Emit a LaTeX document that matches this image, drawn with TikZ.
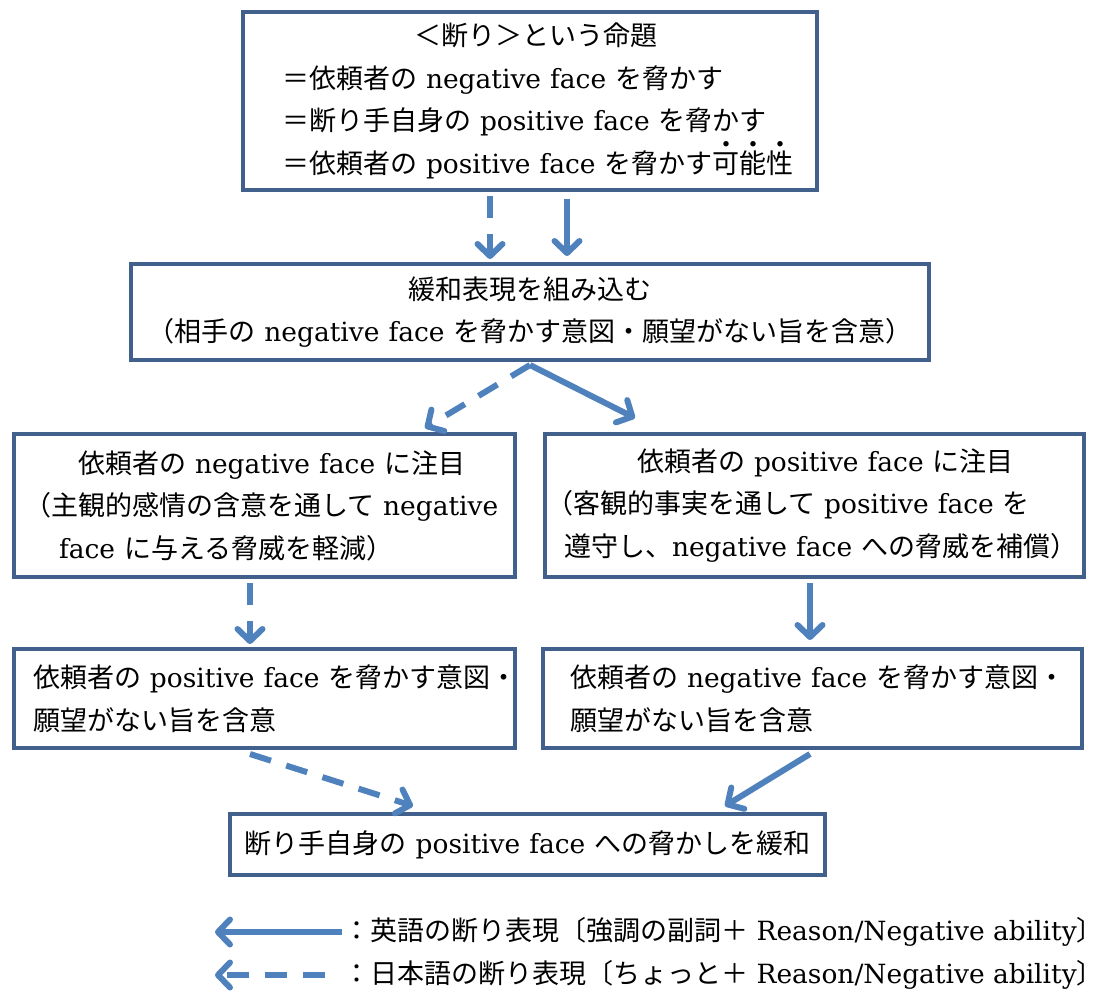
\documentclass[tikz,border=0pt]{standalone}
\usepackage{fontspec}
\usetikzlibrary{arrows.meta,calc}
\newfontfamily\jpfont{Noto Sans CJK JP}
\newfontfamily\latfont{DejaVu Serif}[Scale=0.98]
\newcommand\E[1]{{\latfont #1}}
\newcommand\Ln[2]{\makebox[\linewidth][l]{\hspace*{#1}#2}}
\newcommand\Cn[1]{\makebox[\linewidth][c]{#1}}
\newcommand\bt[1]{\leavevmode\rlap{\makebox[1em][c]{\raisebox{1.0em}{\fontsize{6}{6}\selectfont ●}}}#1}
\definecolor{boxc}{RGB}{65,97,140}
\definecolor{arrc}{RGB}{79,129,189}
\begin{document}
\begin{tikzpicture}[x=1pt,y=-1pt,
  txt/.style={inner sep=0pt,font=\jpfont\fontsize{27}{42.5}\selectfont},
  box/.style={txt,draw=boxc,line width=4pt,fill=white,anchor=north west,align=left},
  bx/.style n args={2}{box,minimum width=#1,minimum height=#2,text width=#1},
  sol/.style={draw=arrc,line width=6pt,line join=round,-{Straight Barb[length=12pt,width=25pt,round]}},
  dsh/.style={sol,dash pattern=on 22pt off 16pt}]
\path[use as bounding box] (0,0) rectangle (1102,991);
\node[bx={574pt}{178pt}] (top) at (241,10) {\Cn{\hspace*{12pt}＜断り＞という命題}\\
  \Ln{39pt}{＝依頼者の\E{ negative face }を脅かす}\\
  \Ln{39pt}{＝断り手自身の\E{ positive face }を脅かす}\\
  \Ln{39pt}{＝依頼者の\E{ positive face }を脅かす\bt{可}\bt{能}\bt{性}}};
\node[bx={798pt}{96pt}] (mid) at (129,262) {\Cn{緩和表現を組み込む}\\
  \Cn{（相手の\E{ negative face }を脅かす意図・願望がない旨を含意）}};
\node[bx={501pt}{143pt}] (nl) at (12,432) {\Ln{64pt}{依頼者の\E{ negative face }に注目}\\
  \Ln{10pt}{（主観的感情の含意を通して\E{ negative}}\\
  \Ln{45pt}{\E{face }に与える脅威を軽減）}};
\node[bx={539pt}{143pt}] (pr) at (543,432) {\Ln{92pt}{依頼者の\E{ positive face }に注目}\\
  \Ln{1pt}{（客観的事実を通して\E{ positive face }を}\\
  \Ln{19pt}{遵守し、\E{negative face }への脅威を補償）}};
\node[bx={501pt}{99pt}] (pl) at (12,647) {\Ln{19pt}{依頼者の\E{ positive face }を脅かす意図・}\\
  \Ln{19pt}{願望がない旨を含意}};
\node[bx={539pt}{99pt}] (nr) at (541,647) {\Ln{27pt}{依頼者の\E{ negative face }を脅かす意図・}\\
  \Ln{27pt}{願望がない旨を含意}};
\node[bx={595pt}{61pt}] (res) at (228,812) {\Cn{断り手自身の\E{ positive face }への脅かしを緩和}};
\coordinate (x490) at (490,0);
\coordinate (x567) at (567,0);
\coordinate (x425) at (425,0);
\coordinate (x635) at (635,0);
\coordinate (x250) at (250,0);
\coordinate (x810) at (810,0);
\coordinate (x413) at (413,0);
\coordinate (x725) at (725,0);
\draw[dsh] ($(top.south -| x490)+(0,4)$) -- ($(mid.north -| x490)+(0,-3)$);
\draw[sol] ($(top.south -| x567)+(0,7)$) -- ($(mid.north -| x567)+(0,-6)$);
\draw[dsh] ($(mid.south)+(0,3)$) -- ($(nl.north -| x425)+(0,-4)$);
\draw[sol] ($(mid.south)+(0,3)$) -- ($(pr.north -| x635)+(0,-14)$);
\draw[dsh] ($(nl.south -| x250)+(0,4)$) -- ($(pl.north -| x250)+(0,-3)$);
\draw[sol] ($(pr.south -| x810)+(0,4)$) -- ($(nr.north -| x810)+(0,-7)$);
\draw[dsh] ($(pl.south -| x250)+(0,4)$) -- ($(res.north -| x413)+(0,-6)$);
\draw[sol] ($(nr.south -| x810)+(0,4)$) -- ($(res.north -| x725)+(0,-6)$);
\coordinate (l1a) at (342,932);
\coordinate (l1b) at (215,932);
\coordinate (l2a) at (325,975);
\coordinate (l2b) at (215,975);
\draw[sol] (l1a) -- (l1b);
\draw[dsh] (l2a) -- (l2b);
\node[txt,anchor=west] (lt1) at (343,932) {：英語の断り表現〔強調の副詞＋\E{ Reason/Negative ability}〕};
\node[txt,anchor=west] (lt2) at (343,975) {：日本語の断り表現〔ちょっと＋\E{ Reason/Negative ability}〕};
\end{tikzpicture}
\end{document}
